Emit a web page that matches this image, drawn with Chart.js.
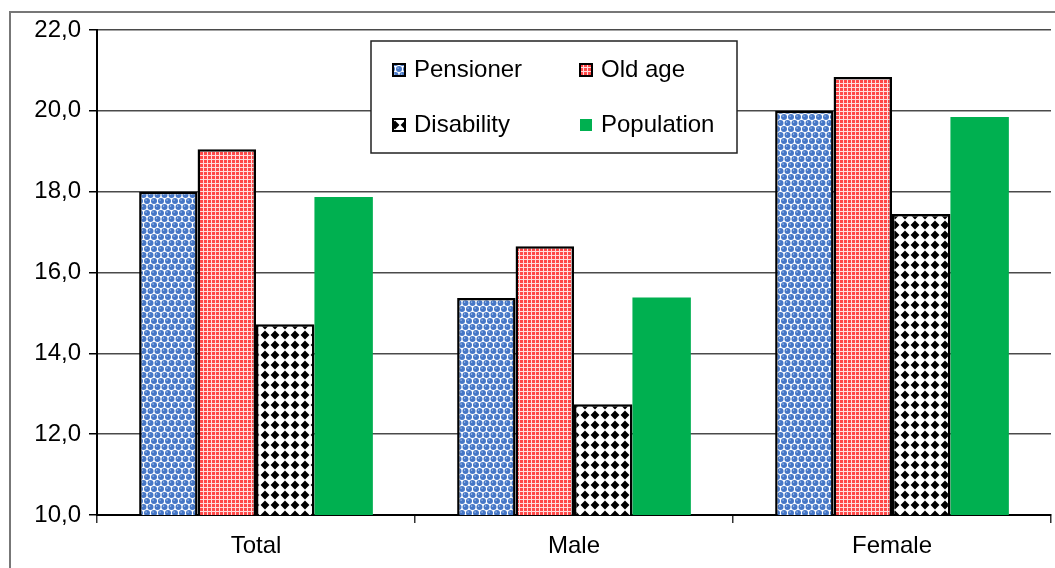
<!DOCTYPE html>
<html>
<head>
<meta charset="utf-8">
<script src="https://cdn.jsdelivr.net/npm/chart.js@4/dist/chart.umd.min.js"></script>
<style>
  html, body { margin: 0; padding: 0; background: #fff; }
  #wrap { width: 1055px; height: 568px; }
</style>
</head>
<body>
<div id="wrap"><canvas id="chart" width="1055" height="568"></canvas></div>
<script>
// values
const categories = ['Total', 'Male', 'Female'];
const pensioner  = [18.0, 15.37, 20.0];
const oldAge     = [19.05, 16.65, 20.84];
const disability = [14.72, 12.74, 17.45];
const population = [17.87, 15.38, 19.85];
const yTicks = [10, 12, 14, 16, 18, 20, 22];

const FONT = "'Liberation Sans', Arial, sans-serif";

// fill patterns like the old office chart
function tile(w, h, draw) {
  const c = document.createElement('canvas');
  c.width = w; c.height = h;
  const g = c.getContext('2d');
  draw(g);
  return document.getElementById('chart').getContext('2d').createPattern(c, 'repeat');
}

const bluePat = tile(7, 12, g => {
  g.fillStyle = '#fff'; g.fillRect(0, 0, 7, 12);
  const dot = (x, y) => {
    g.fillStyle = '#4576c6';
    g.beginPath(); g.arc(x, y, 3.0, 0, Math.PI * 2); g.fill();
    g.fillStyle = '#b6cdee';
    g.fillRect(x - 1.5, y - 1.5, 1.2, 1.2);
  };
  dot(3.5, 3); dot(0, 9); dot(7, 9);
});

const redPat = tile(4, 4, g => {
  g.fillStyle = '#ffdcdc'; g.fillRect(0, 0, 4, 4);
  g.fillStyle = '#ff4848';
  g.fillRect(0, 0, 3, 3);
});

const diamondPat = tile(10, 10, g => {
  g.fillStyle = '#fff'; g.fillRect(0, 0, 10, 10);
  g.fillStyle = '#000';
  g.beginPath();
  g.moveTo(5, 0.6); g.lineTo(9.4, 5); g.lineTo(5, 9.4); g.lineTo(0.6, 5);
  g.closePath(); g.fill();
});

// page frame and legend box
const decor = {
  id: 'decor',
  beforeDraw(chart) {
    const g = chart.ctx;
    g.save();
    g.strokeStyle = '#777';
    g.lineWidth = 2;
    g.beginPath();
    g.moveTo(10, 568); g.lineTo(10, 12); g.lineTo(1055, 12);
    g.stroke();
    g.restore();
  },
  afterDraw(chart) {
    const g = chart.ctx;
    const box = {x: 371, y: 41, w: 366, h: 112};
    g.save();
    g.fillStyle = '#fff';
    g.fillRect(box.x, box.y, box.w, box.h);
    g.strokeStyle = '#222';
    g.lineWidth = 1.5;
    g.strokeRect(box.x, box.y, box.w, box.h);
    const cols = [393, 580];
    const rows = [70, 125];
    g.font = '24px ' + FONT;
    g.textBaseline = 'middle';
    chart.data.datasets.forEach((ds, i) => {
      const x = cols[i % 2], y = rows[Math.floor(i / 2)];
      g.fillStyle = ds.backgroundColor;
      g.fillRect(x, y - 6, 12, 12);
      if (ds.borderWidth) {
        g.strokeStyle = '#000';
        g.lineWidth = 2;
        g.strokeRect(x, y - 6, 12, 12);
      }
      g.fillStyle = '#000';
      g.fillText(ds.label, x + 21, y);
    });
    g.restore();
  }
};

const mkSet = (label, data, fill, border) => ({
  label, data,
  backgroundColor: fill,
  borderColor: '#000',
  borderWidth: border,
  borderSkipped: 'bottom',
});

new Chart(document.getElementById('chart'), {
  type: 'bar',
  data: {
    labels: categories,
    datasets: [
      mkSet('Pensioner', pensioner, bluePat, 2.5),
      mkSet('Old age', oldAge, redPat, 2.5),
      mkSet('Disability', disability, diamondPat, 2.5),
      mkSet('Population', population, '#00b050', 0),
    ]
  },
  options: {
    responsive: false,
    animation: false,
    layout: {padding: {top: 30, right: 4, left: 0, bottom: 0}},
    datasets: {bar: {categoryPercentage: 0.735, barPercentage: 1.0}},
    plugins: {
      legend: {display: false},
      tooltip: {enabled: false},
    },
    scales: {
      x: {
        grid: {drawOnChartArea: false, drawTicks: true, tickLength: 8, color: '#333', lineWidth: 1.5},
        border: {color: '#000', width: 2},
        ticks: {color: '#000', padding: 9, font: {family: FONT, size: 24}},
        afterFit: s => { s.height = 53; }
      },
      y: {
        min: 10, max: 22,
        afterBuildTicks: s => { s.ticks = yTicks.map(v => ({value: v})); },
        grid: {color: '#4a4a4a', lineWidth: 1.5, tickLength: 8, tickColor: '#000'},
        border: {color: '#000', width: 2},
        ticks: {
          color: '#000', padding: 8,
          font: {family: FONT, size: 24},
          callback: v => v.toFixed(1).replace('.', ',')
        },
        afterFit: s => { s.width = 97; }
      }
    }
  },
  plugins: [decor]
});
</script>
</body>
</html>
